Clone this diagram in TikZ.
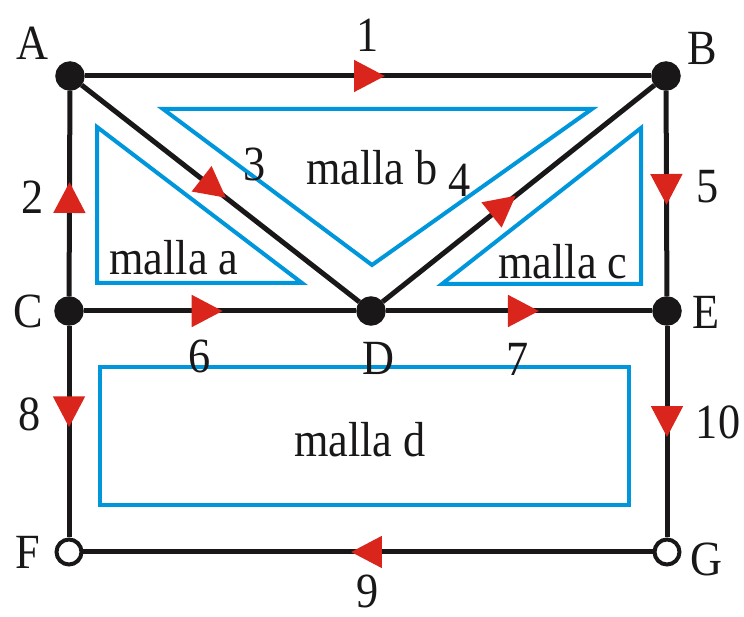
\documentclass[tikz,border=0pt]{standalone}
\usepackage{fontspec}
\setmainfont{Liberation Serif}[FakeStretch=0.9]
\usepackage{xcolor}
\usetikzlibrary{arrows.meta, decorations.markings, positioning}
\definecolor{wirestroke} {HTML}{1A1718}
\definecolor{loopstroke} {HTML}{0096DC}
\definecolor{arrowfill}  {HTML}{DA251D}
\tikzset{
  nudo/.style={circle, inner sep=0pt, minimum size=0.5cm,
    draw=wirestroke, line width=0.09cm, fill=wirestroke},
  nudolibre/.style={nudo, fill=white, line width=0.08cm},
  rama/.style={draw=wirestroke, line width=0.1cm},
  flecha/.style={postaction={decorate, decoration={markings,
    mark=at position #1 with {\arrow[arrowfill]{Triangle[length=0.62cm, width=0.62cm]}}}}},
  malla/.style={draw=loopstroke, line width=0.08cm, miter limit=20},
  etiq/.style={font=\fontsize{28}{30}\selectfont, text=wirestroke, inner sep=0pt}
}
\begin{document}
\begin{tikzpicture}[x=0.02cm, y=-0.02cm]
  \useasboundingbox (0,0) rectangle (744,617);

  %% NODES
  \node[nudo] (A) at (70,76) {};
  \node[nudo] (B) at (666,76) {};
  \node[nudo] (C) at (69,311) {};
  \node[nudo] (D) at (371,311) {};
  \node[nudo] (E) at (667,311) {};
  \node[nudolibre] (F) at (69,552) {};
  \node[nudolibre] (G) at (667,552) {};

  %% BRANCHES
  \draw[rama, flecha=0.53]  (A) -- (B);
  \draw[rama, flecha=0.556] (C) -- (A);
  \draw[rama, flecha=0.52]  (A) -- (D);
  \draw[rama, flecha=0.49]  (D) -- (B);
  \draw[rama, flecha=0.556] (B) -- (E);
  \draw[rama, flecha=0.51]  (C) -- (D);
  \draw[rama, flecha=0.575] (D) -- (E);
  \draw[rama, flecha=0.48]  (C) -- (F);
  \draw[rama, flecha=0.526] (E) -- (G);
  \draw[rama, flecha=0.53]  (G) -- (F);

  %% LOOPS
  \draw[malla] (97,127) -- (97,283) -- (302,283) -- cycle;
  \draw[malla] (163,109) -- (592,109) -- (372,265) -- cycle;
  \draw[malla] (641,128) -- (641,284) -- (442,284) -- cycle;
  \draw[malla] (100,367) rectangle (629,505);

  %% LABELS
  \node[etiq] (lA) at (32,43) {A};
  \node[etiq] (lB) at (702,48) {B};
  \node[etiq] (lC) at (28,311) {C};
  \node[etiq] (lD) at (378,358) {D};
  \node[etiq] (lE) at (706,312) {E};
  \node[etiq] (lF) at (28,552) {F};
  \node[etiq] (lG) at (706,559) {G};

  \node[etiq] (n1) at (368,35) {1};
  \node[etiq] (n2) at (33,197) {2};
  \node[etiq] (n3) at (255,164) {3};
  \node[etiq] (n4) at (460,180) {4};
  \node[etiq] (n5) at (708,187) {5};
  \node[etiq] (n6) at (200,356) {6};
  \node[etiq] (n7) at (518,359) {7};
  \node[etiq] (n8) at (30,414) {8};
  \node[etiq] (n9) at (368,591) {9};
  \node[etiq] (n10) at (718,422) {10};

  \node[etiq] (ma) at (174,258) {malla a};
  \node[etiq] (mb) at (372,168) {malla b};
  \node[etiq] (mc) at (563,262) {malla c};
  \node[etiq] (md) at (360,440) {malla d};
\end{tikzpicture}
\end{document}
